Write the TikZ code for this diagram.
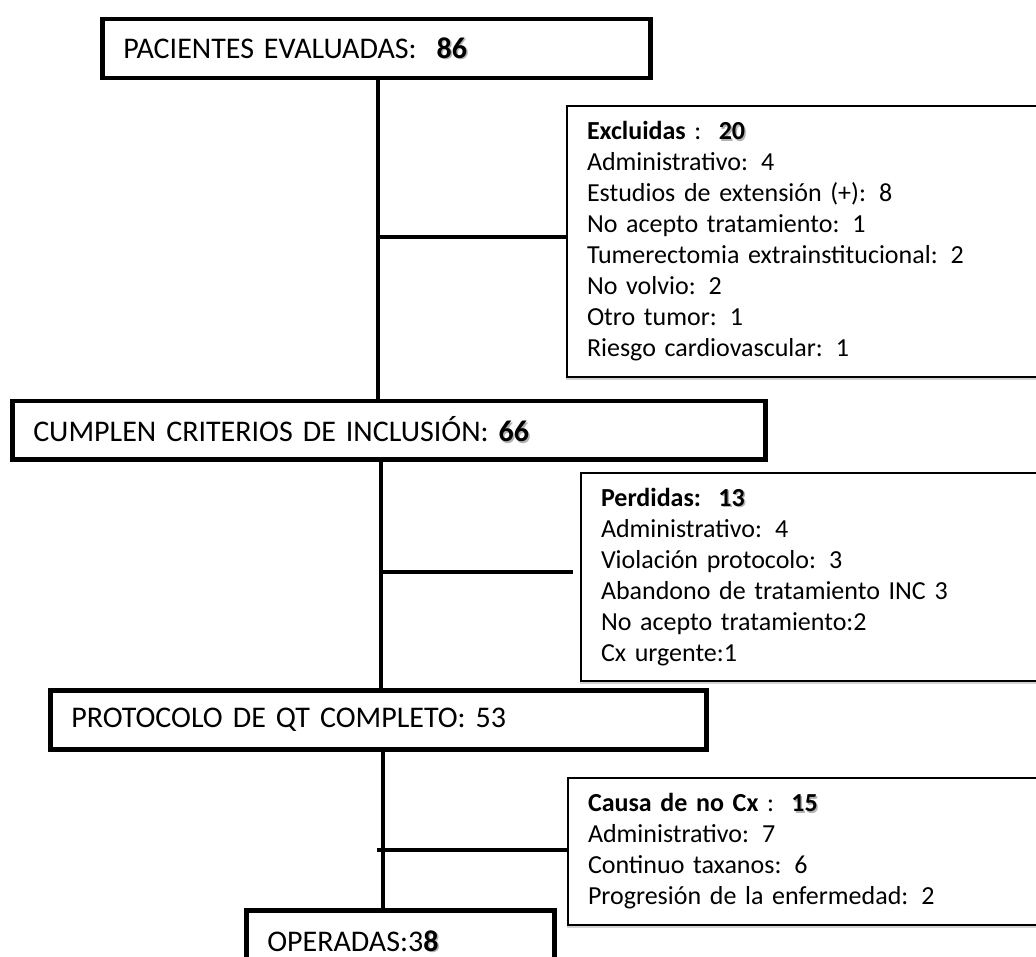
\documentclass[tikz,border=0pt]{standalone}
\usepackage{fontspec}
\setmainfont{Carlito}
\usetikzlibrary{positioning,shadows}
\tikzset
{
    mainbox/.style = {rectangle, draw=black, line width=4.5pt, anchor=north west, inner xsep=21pt, inner ysep=0pt, align=left, font=\fontsize{30}{36}\selectfont},
    sidebox/.style = {rectangle, draw=black, line width=2pt, fill=white, anchor=north west, inner xsep=20pt, inner ysep=0pt, align=left, font=\fontsize{26}{31}\selectfont, drop shadow={shadow xshift=-1pt, shadow yshift=-3pt, opacity=0.35}},
    link/.style    = {line width=4.5pt}
}
\newcommand{\shnum}[1]{\rlap{\kern1.5pt\raisebox{-1.5pt}{\color{black!30}\bfseries #1}}\textbf{#1}}

\begin{document}
\begin{tikzpicture}[x=1pt,y=-1pt]
\clip (0,0) rectangle (1036,957);
\node [mainbox, minimum width=548pt, minimum height=59pt, text width=506pt] at (100,17) (pac) {PACIENTES EVALUADAS:\ \ \shnum{86}};
\node [mainbox, minimum width=753pt, minimum height=58pt, text width=711pt] at (10,399) (cum) {CUMPLEN CRITERIOS DE INCLUSIÓN: \shnum{66}};
\node [mainbox, minimum width=656pt, minimum height=59pt, text width=614pt] at (48,688) (pro) {PROTOCOLO DE QT COMPLETO: 53};
\node [mainbox, minimum width=308pt, minimum height=63pt, text width=266pt] at (244,908) (ope) {OPERADAS:3\shnum{8}};
\node [sidebox, minimum width=504pt, minimum height=271pt, text width=464pt] at (566,105) (exc) {\textbf{Excluidas} :\ \ \shnum{20}\\
Administrativo: 4\\
Estudios de extensión (+): 8\\
No acepto tratamiento: 1\\
Tumerectomia extrainstitucional: 2\\
No volvio: 2\\
Otro tumor: 1\\
Riesgo cardiovascular: 1};
\node [sidebox, minimum width=490pt, minimum height=208pt, text width=450pt] at (580,472) (per) {\textbf{Perdidas:}\ \ \shnum{13}\\
Administrativo: 4\\
Violación protocolo: 3\\
Abandono de tratamiento INC 3\\
No acepto tratamiento:2\\
Cx urgente:1};
\node [sidebox, minimum width=503pt, minimum height=147pt, text width=463pt] at (567,777) (cau) {\textbf{Causa de no Cx} :\ \ \shnum{15}\\
Administrativo: 7\\
Continuo taxanos: 6\\
Progresión de la enfermedad: 2};
\coordinate (j1) at (378,237);
\coordinate (j2) at (381,572);
\coordinate (j3) at (377,850);
\coordinate (v3) at (383,850);
\draw [link] (pac.south -| j1) -- (cum.north -| j1);
\draw [link] (j1) -- (exc.west |- j1);
\draw [link] (cum.south -| j2) -- (pro.north -| j2);
\draw [link, shorten >=7pt] (j2) -- (per.west |- j2);
\draw [link] (pro.south -| v3) -- (ope.north -| v3);
\draw [link] (j3) -- (cau.west |- j3);
\end{tikzpicture}
\end{document}
